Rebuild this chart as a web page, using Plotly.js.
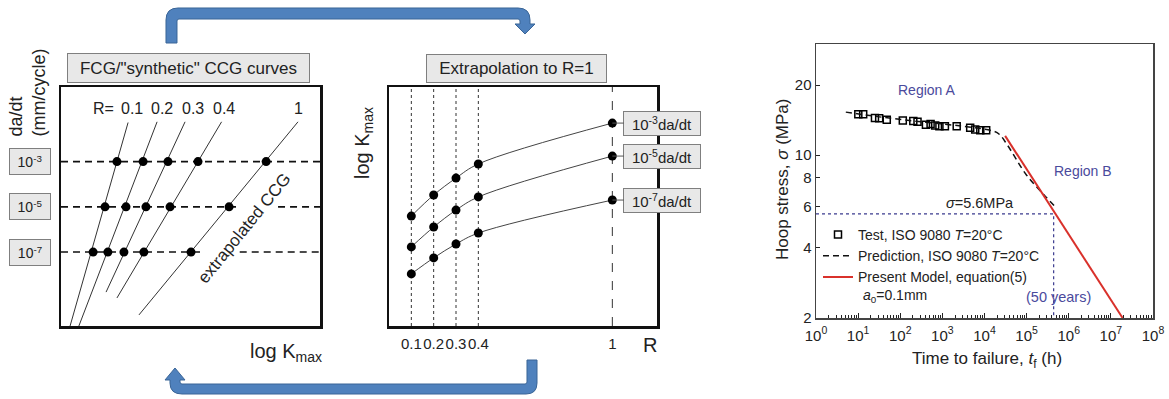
<!DOCTYPE html>
<html><head><meta charset="utf-8">
<script src="https://cdn.plot.ly/plotly-3.0.1.min.js"></script>
<style>html,body{margin:0;padding:0;background:#fff}</style>
</head><body><div id="chart" style="width:1169px;height:399px"></div>
<script>
// ================= DATA =================
// Common
const rValues = [0.1, 0.2, 0.3, 0.4, 1];
const rLabels = ['0.1', '0.2', '0.3', '0.4', '1'];
const rateExponents = [-3, -5, -7];
const rateBoxLabels = ['10<sup>-3</sup>', '10<sup>-5</sup>', '10<sup>-7</sup>'];
const rateCurveLabels = ['10<sup>-3</sup>da/dt', '10<sup>-5</sup>da/dt', '10<sup>-7</sup>da/dt'];

// Panel 1: FCG / synthetic CCG curves (schematic, log K vs log da/dt)
const logK_rate3 = [2.16, 3.17, 4.13, 5.29, 7.92];
const logK_rate5 = [1.70, 2.51, 3.28, 4.21, 6.49];
const logK_rate7 = [1.24, 1.81, 2.43, 3.20, 5.02];
const lineStartLogK = [2.59, 3.71, 4.79, 6.20, 9.15];
const lineStartRate = [-1.27, -1.24, -1.24, -1.24, -1.24];
const lineEndLogK = [0.35, 0.69, 1.74, 2.16, 3.01];
const lineEndRate = [-10.27, -10.27, -8.77, -9.03, -9.78];
const guide3LogK = [0, 10];
const guide5LogK = [0, 6.91, null, 8.38, 10];
const guide7LogK = [0, 5.4, null, 6.9, 10];

// Panel 2: Extrapolation to R=1 (schematic log Kmax vs R)
const logKmax_rate3 = [4.60, 5.48, 6.19, 6.78, 8.49];
const logKmax_rate5 = [3.31, 4.14, 4.85, 5.40, 7.11];
const logKmax_rate7 = [2.18, 2.85, 3.43, 3.89, 5.27];

// Panel 3: Hoop stress vs time to failure
const testTime = [10.1, 13.2, 25.1, 31.6, 47.9, 115, 204, 257, 407, 525, 676, 851, 1148, 2188, 4571, 6026, 7943, 10965];
const testStress = [15.0, 15.0, 14.45, 14.4, 14.2, 14.1, 14.0, 13.9, 13.5, 13.6, 13.4, 13.3, 13.3, 13.3, 13.1, 12.9, 12.8, 12.8];
const predTime = [5.1, 32, 316, 3160, 15800, 22400, 35500, 100000, 251000, 501000];
const predStress = [15.3, 14.6, 13.9, 13.3, 12.7, 12.3, 11.0, 8.2, 6.8, 5.95];
const modelTime = [30900, 1.9e7];
const modelStress = [12.1, 2];
const designStress = 5.6;
const designLifeYears = 50;
const designLifeHours = designLifeYears * 8760;
const timeTicks = [1, 1e1, 1e2, 1e3, 1e4, 1e5, 1e6, 1e7, 1e8];
const timeTickLabels = ['10<sup>0</sup>', '10<sup>1</sup>', '10<sup>2</sup>', '10<sup>3</sup>', '10<sup>4</sup>', '10<sup>5</sup>', '10<sup>6</sup>', '10<sup>7</sup>', '10<sup>8</sup>'];
const stressTicks = [2, 4, 6, 8, 10, 20];
const stressTickLabels = ['2', '4', '6', '8', '10', '20'];

// ================= LAYOUT HELPERS =================
const W = 1169, H = 399;
const px = x => x / W;
const py = y => 1 - y / H;
const toPaper = s => s.replace(/(-?[\d.]+),(-?[\d.]+)/g, (m, a, b) => (a / W).toFixed(5) + ',' + (1 - b / H).toFixed(5));
const FONT = 'Liberation Sans, Arial, sans-serif';

const traces = [];
// ---- Panel 1 ----
for (let i = 0; i < rValues.length; i++) {
  traces.push({x: [lineStartLogK[i], lineEndLogK[i]], y: [lineStartRate[i], lineEndRate[i]],
    xaxis: 'x', yaxis: 'y', mode: 'lines', line: {color: '#333', width: 1}, showlegend: false, hoverinfo: 'skip'});
}
const guides = [guide3LogK, guide5LogK, guide7LogK];
guides.forEach((g, i) => {
  traces.push({x: g, y: g.map(v => v === null ? null : rateExponents[i]), xaxis: 'x', yaxis: 'y', mode: 'lines',
    line: {color: '#111', width: 1.6, dash: '7px,5px'}, connectgaps: false, showlegend: false, hoverinfo: 'skip'});
});
[logK_rate3, logK_rate5, logK_rate7].forEach((arr, i) => {
  traces.push({x: arr, y: arr.map(() => rateExponents[i]), xaxis: 'x', yaxis: 'y', mode: 'markers',
    marker: {color: '#000', size: 9}, showlegend: false, hoverinfo: 'skip'});
});
// ---- Panel 2 ----
[logKmax_rate3, logKmax_rate5, logKmax_rate7].forEach(arr => {
  traces.push({x: rValues, y: arr, xaxis: 'x2', yaxis: 'y2', mode: 'lines+markers',
    line: {color: '#444', width: 1, shape: 'spline', smoothing: 1}, marker: {color: '#000', size: 9},
    showlegend: false, hoverinfo: 'skip'});
});
// ---- Panel 3 ----
traces.push({x: [1, designLifeHours, designLifeHours], y: [designStress, designStress, 2], xaxis: 'x3', yaxis: 'y3',
  mode: 'lines', line: {color: '#3b3b8f', width: 1.2, dash: 'dot'}, showlegend: false, hoverinfo: 'skip'});
traces.push({x: testTime, y: testStress, xaxis: 'x3', yaxis: 'y3', mode: 'markers', name: 'Test, ISO 9080 <i>T</i>=20°C',
  marker: {symbol: 'square-open', size: 7, color: '#000', line: {width: 1.5, color: '#000'}}});
traces.push({x: predTime, y: predStress, xaxis: 'x3', yaxis: 'y3', mode: 'lines', name: 'Prediction, ISO 9080 <i>T</i>=20°C',
  line: {color: '#111', width: 1.5, dash: '6px,4px', shape: 'spline'}});
traces.push({x: modelTime, y: modelStress, xaxis: 'x3', yaxis: 'y3', mode: 'lines', name: 'Present Model, equation(5)',
  line: {color: '#d9312b', width: 2}});

// minor ticks for log time axis
const minorTime = [];
for (let d = 0; d < 8; d++) for (let k = 2; k <= 9; k++) minorTime.push(k * Math.pow(10, d));

const boxAxis = (domain, range, anchor) => ({domain, range, anchor, showline: true, mirror: true, linecolor: '#111',
  linewidth: 2.5, showticklabels: false, ticks: '', showgrid: false, zeroline: false, fixedrange: true});

const annotations = [];
const ann = o => annotations.push(Object.assign({xref: 'paper', yref: 'paper', xanchor: 'center', yanchor: 'middle', showarrow: false}, o));
// Panel 1 annotations
ann({x: px(188.5), y: py(68), text: 'FCG/"synthetic" CCG curves',
  bgcolor: '#e8e8e8', bordercolor: '#7f7f7f', borderwidth: 1, borderpad: 0, width: 241, height: 28,
  font: {size: 17, color: '#222', family: FONT}});
ann({x: px(27), y: py(92.5), text: 'da/dt<br>(mm/cycle)', textangle: -90,
  align: 'left', font: {size: 18, color: '#222', family: FONT}});
rateExponents.forEach((e, i) => {
  ann({yref: 'y', x: px(30), y: e, text: rateBoxLabels[i],
    bgcolor: '#e8e8e8', bordercolor: '#7f7f7f', borderwidth: 1, borderpad: 0, width: 40, height: 25,
    font: {size: 14, color: '#222', family: FONT}});
});
ann({x: px(103), y: py(108), text: 'R=', font: {size: 16, color: '#222', family: FONT}});
const rLabelPx = [132, 162, 193, 224, 298];
rLabels.forEach((t, i) => ann({x: px(rLabelPx[i]), y: py(108), text: t, font: {size: 16, color: '#222', family: FONT}}));
ann({x: px(244), y: py(228), text: 'extrapolated CCG', textangle: -51, font: {size: 17, color: '#222', family: FONT}});
ann({x: px(286), y: py(352), text: 'log K<sub>max</sub>', font: {size: 20, color: '#222', family: FONT}});
// Panel 2 annotations
ann({x: px(516.5), y: py(68.5), text: 'Extrapolation to R=1',
  bgcolor: '#e8e8e8', bordercolor: '#7f7f7f', borderwidth: 1, borderpad: 0, width: 179, height: 27,
  font: {size: 17, color: '#222', family: FONT}});
[logKmax_rate3, logKmax_rate5, logKmax_rate7].forEach((arr, i) => {
  annotations.push({xref: 'x2', yref: 'y2', x: rValues[rValues.length - 1], y: arr[arr.length - 1], text: rateCurveLabels[i],
    showarrow: true, arrowhead: 0, arrowwidth: 1, arrowcolor: '#555', ax: 50, ay: 0, standoff: 0,
    bgcolor: '#e8e8e8', bordercolor: '#7f7f7f', borderwidth: 1, borderpad: 0, width: 76, height: 23,
    font: {size: 15, color: '#222', family: FONT}});
});
ann({x: px(363), y: py(143), text: 'log K<sub>max</sub>', textangle: -90, font: {size: 20, color: '#222', family: FONT}});
ann({x: px(650), y: py(345), text: 'R', font: {size: 20, color: '#222', family: FONT}});
// Panel 3 annotations
const slate = '#4a4a9c';
ann({x: px(926), y: py(90), text: 'Region A', font: {size: 14, color: slate, family: FONT}});
ann({x: px(1083), y: py(171), text: 'Region B', font: {size: 14, color: slate, family: FONT}});
ann({x: px(980), y: py(203), text: '<i>σ</i>=' + designStress + 'MPa', font: {size: 14.5, color: '#222', family: FONT}});
ann({x: px(1058), y: py(297), text: '(' + designLifeYears + ' years)', font: {size: 14.5, color: slate, family: FONT}});
ann({x: px(861), y: py(296), xanchor: 'left', text: '<i>a</i><sub>0</sub>=0.1mm', font: {size: 14, color: '#222', family: FONT}});
ann({x: px(782), y: py(180), text: 'Hoop stress, <i>σ</i> (MPa)', textangle: -90, font: {size: 17, color: '#222', family: FONT}});
ann({x: px(987), y: py(360), text: 'Time to failure, <i>t</i><sub>f</sub> (h)', font: {size: 17, color: '#222', family: FONT}});

const shapes = [];
rValues.forEach((r, i) => {
  shapes.push({type: 'line', xref: 'x2', yref: 'y2 domain', x0: r, x1: r, y0: 0, y1: 1,
    line: {color: '#333', width: 1, dash: i < rValues.length - 1 ? 'dot' : 'dash'}, layer: 'below'});
});
const arrowStyle = {fillcolor: '#4f81bd', line: {color: '#3a6597', width: 1}, layer: 'above'};
shapes.push(Object.assign({type: 'path', xref: 'paper', yref: 'paper',
  path: toPaper('M 166,43 L 166,20 Q 166,8 178,8 L 518,8 Q 530,8 530,20 L 530,24 L 535,24 L 525,34 L 515,24 L 520,24 L 520,21 Q 520,19 518,19 L 179,19 Q 177,19 177,21 L 177,43 Z')}, arrowStyle));
shapes.push(Object.assign({type: 'path', xref: 'paper', yref: 'paper',
  path: toPaper('M 527,360 L 537,360 L 537,383 Q 537,394 526,394 L 182,394 Q 170,394 170,383 L 170,380 L 165,380 L 175,368 L 185,380 L 180,380 L 180,382 Q 180,384 182,384 L 525,384 Q 527,384 527,382 Z')}, arrowStyle));

const layout = {
  width: W, height: H, margin: {l: 0, r: 0, t: 0, b: 0}, paper_bgcolor: '#fff', plot_bgcolor: 'rgba(0,0,0,0)',
  font: {family: FONT, color: '#222'},
  xaxis: boxAxis([px(61), px(320)], [0, 10], 'y'),
  yaxis: boxAxis([py(326), py(87)], [-10.27, 0.3], 'x'),
  xaxis2: Object.assign(boxAxis([px(389), px(657)], [0, 1.2], 'y2'), {showticklabels: true, tickmode: 'array',
    tickvals: rValues, ticktext: rLabels, tickangle: 0, tickfont: {size: 15, color: '#222'}, ticklabelstandoff: 2}),
  yaxis2: boxAxis([py(326), py(87)], [0, 10], 'x2'),
  xaxis3: {type: 'log', domain: [px(816), px(1153)], range: [0, 8], anchor: 'y3', tickmode: 'array', tickvals: timeTicks,
    ticktext: timeTickLabels, tickangle: 0, ticks: 'inside', ticklen: 5, tickwidth: 1, tickcolor: '#222', showline: true, mirror: true,
    linecolor: '#444', linewidth: 1.5, showgrid: false, zeroline: false, tickfont: {size: 15, color: '#222'}, ticklabelstandoff: 3,
    minor: {ticks: 'inside', ticklen: 3, tickcolor: '#222', tickmode: 'array', tickvals: minorTime, showgrid: false}, fixedrange: true},
  yaxis3: {type: 'log', domain: [py(318), py(44)], range: [Math.log10(2), Math.log10(30)], anchor: 'x3', tickmode: 'array',
    tickvals: stressTicks, ticktext: stressTickLabels, ticks: 'inside', ticklen: 4, tickcolor: '#222', showline: true,
    mirror: true, linecolor: '#444', linewidth: 1.5, showgrid: false, zeroline: false, tickfont: {size: 15, color: '#222'}, fixedrange: true},
  showlegend: true,
  legend: {x: px(818), y: py(219), xanchor: 'left', yanchor: 'top', bgcolor: 'rgba(0,0,0,0)', font: {size: 14, color: '#222'},
    tracegroupgap: 0, itemwidth: 30},
  annotations, shapes
};
Plotly.newPlot('chart', traces, layout, {displayModeBar: false, staticPlot: true});
</script></body></html>
